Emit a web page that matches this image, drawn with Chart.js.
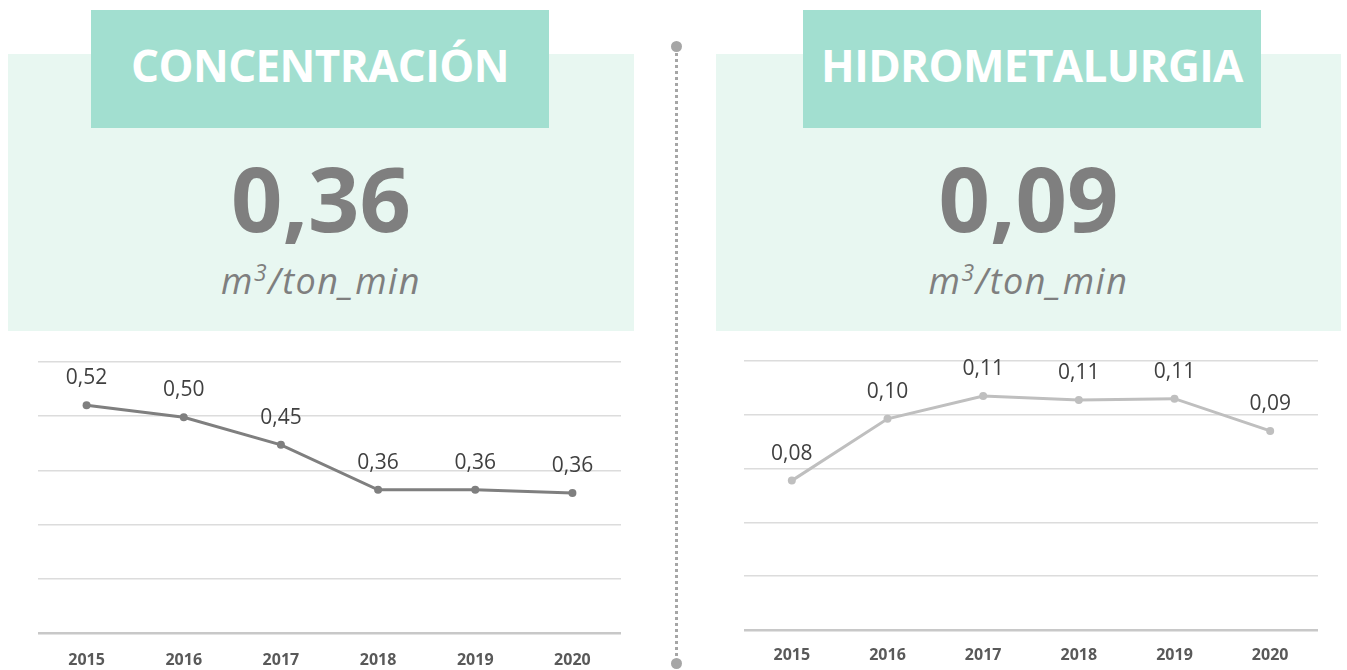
<!DOCTYPE html>
<html>
<head>
<meta charset="utf-8">
<script src="https://cdn.jsdelivr.net/npm/chart.js@4"></script>
<style>
  html, body { margin: 0; padding: 0; background: #ffffff; }
  body { width: 1347px; height: 670px; position: relative; overflow: hidden; font-family: 'Open Sans', sans-serif; }
  .panel { position: absolute; top: 54px; height: 277px; background: #e8f7f1; }
  .titleBox { position: absolute; top: 10px; height: 118px; width: 458px; background: #a2dfd0; }
  .title { position: absolute; top: 35px; height: 60px; line-height: 60px; text-align: center; color: #ffffff; font-weight: 700; font-size: 44px; letter-spacing: -0.6px; }
  .bigNum { position: absolute; top: 147px; height: 100px; line-height: 100px; text-align: center; color: #7f7f7f; font-weight: 700; font-size: 90px; }
  .unit { position: absolute; top: 261px; height: 40px; line-height: 40px; text-align: center; color: #7f7f7f; font-style: italic; font-size: 36px; letter-spacing: 1.5px; }
  .unit sup { font-size: 23px; line-height: 0; }
  .divider { position: absolute; left: 675px; top: 48px; height: 614px; border-left: 3px dotted #a6a6a6; }
  .dot { position: absolute; width: 11px; height: 11px; border-radius: 50%; background: #a6a6a6; }
  .chartBox { position: absolute; }
</style>
</head>
<body>
  <div class="panel" style="left:8px; width:626px;"></div>
  <div class="titleBox" style="left:91px;"></div>
  <div class="title" style="left:91px; width:458px;">CONCENTRACIÓN</div>
  <div class="bigNum" style="left:8px; width:626px;">0,36</div>
  <div class="unit" style="left:8px; width:626px;">m<sup>3</sup>/ton_min</div>

  <div class="panel" style="left:716px; width:625px;"></div>
  <div class="titleBox" style="left:803px;"></div>
  <div class="title" style="left:803px; width:458px;">HIDROMETALURGIA</div>
  <div class="bigNum" style="left:716px; width:625px;">0,09</div>
  <div class="unit" style="left:716px; width:625px;">m<sup>3</sup>/ton_min</div>

  <div class="divider"></div>
  <div class="dot" style="left:671px; top:41px;"></div>
  <div class="dot" style="left:671px; top:658px;"></div>

  <div class="chartBox" style="left:0px; top:340px; width:640px; height:340px;"><canvas id="concChart"></canvas></div>
  <div class="chartBox" style="left:700px; top:340px; width:647px; height:333px;"><canvas id="hidroChart"></canvas></div>

<script>
// Data
const years = ['2015', '2016', '2017', '2018', '2019', '2020'];
const concentracion = [0.52, 0.498, 0.447, 0.364, 0.364, 0.358];
const hidrometalurgia = [0.0755, 0.0985, 0.107, 0.1055, 0.106, 0.094];
const concTicks = { min: 0.1, max: 0.6, step: 0.1 };
const hidroTicks = { min: 0.02, max: 0.12, step: 0.02 };

// Draws value labels above each point
const valueLabels = {
  id: 'valueLabels',
  afterDatasetsDraw(chart) {
    const ctx = chart.ctx;
    chart.data.datasets.forEach((ds, i) => {
      const meta = chart.getDatasetMeta(i);
      ctx.save();
      ctx.font = '21px "Open Sans"';
      ctx.fillStyle = '#404040';
      ctx.textAlign = 'center';
      ctx.textBaseline = 'middle';
      meta.data.forEach((pt, j) => {
        const txt = ds.data[j].toFixed(2).replace('.', ',');
        ctx.fillText(txt, pt.x, pt.y - 27);
      });
      ctx.restore();
    });
  }
};

function makeChart(id, values, color, range, padding, tickPad) {
  const ctx = document.getElementById(id).getContext('2d');
  return new Chart(ctx, {
    type: 'line',
    data: {
      labels: years,
      datasets: [{
        data: values,
        borderColor: color,
        backgroundColor: color,
        borderWidth: 3,
        pointRadius: 4,
        pointBackgroundColor: color,
        pointBorderWidth: 0,
        tension: 0
      }]
    },
    options: {
      responsive: true,
      maintainAspectRatio: false,
      animation: false,
      layout: { padding: padding },
      plugins: { legend: { display: false }, tooltip: { enabled: false } },
      scales: {
        x: {
          offset: true,
          grid: { display: false },
          border: { display: false },
          ticks: {
            color: '#595959',
            padding: tickPad,
            font: { family: 'Open Sans', size: 16, weight: '700' }
          }
        },
        y: {
          min: range.min,
          max: range.max,
          border: { display: false },
          grid: {
            drawTicks: false,
            color: c => c.index === 0 ? '#c8c8c8' : '#dcdcdc',
            lineWidth: c => c.index === 0 ? 2.5 : 1.5
          },
          ticks: { display: false, stepSize: range.step }
        }
      }
    },
    plugins: [valueLabels]
  });
}

makeChart('concChart', concentracion, '#7f7f7f', concTicks, { left: 38, right: 19, top: 22, bottom: 0 }, 10);
makeChart('hidroChart', hidrometalurgia, '#bfbfbf', hidroTicks, { left: 44, right: 29, top: 21, bottom: 0 }, 8);
</script>
</body>
</html>
